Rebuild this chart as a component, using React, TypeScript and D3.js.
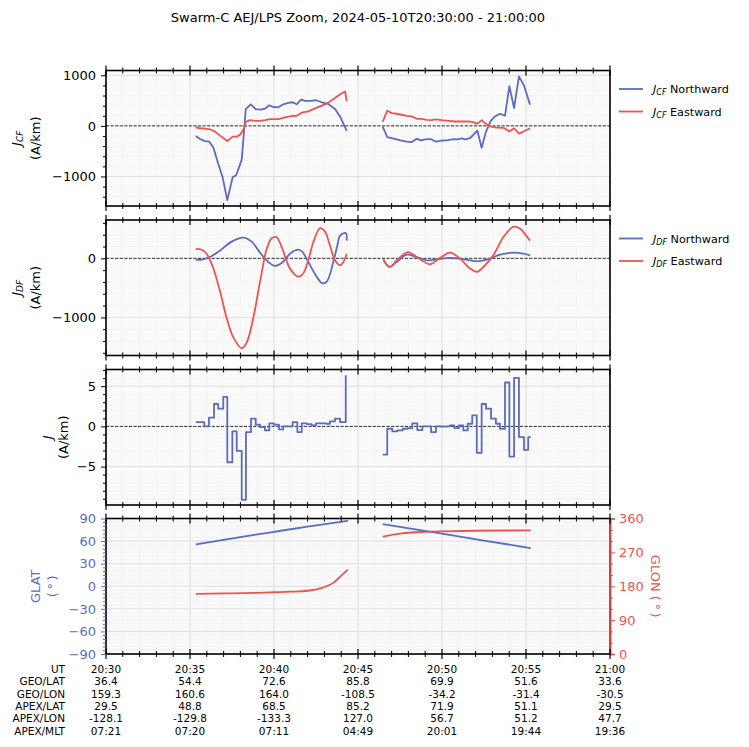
import React, { useEffect, useRef } from 'react';
import * as d3 from 'd3';

type Pt = [number, number];

// time = minutes after 20:30:00 UT
const jcfNorth: Pt[][] = [
  [[5.34, -200], [5.6, -260], [5.89, -300], [6.15, -313], [6.39, -427], [6.68, -747], [6.95, -1027], [7.22, -1467],
   [7.54, -1013], [7.74, -980], [8.08, -667], [8.32, 333], [8.61, 427], [8.91, 333], [9.21, 320], [9.46, 340],
   [9.72, 407], [9.96, 373], [10.26, 367], [10.55, 427], [10.85, 453], [11.11, 467], [11.35, 427], [11.61, 520],
   [11.85, 493], [12.14, 493], [12.5, 507], [12.84, 467], [13.23, 433], [13.63, 333], [13.93, 187], [14.33, -100]],
  [[16.47, -13], [16.74, -220], [17.01, -240], [17.3, -267], [17.6, -293], [17.9, -313], [18.2, -320], [18.49, -253],
   [18.73, -287], [18.99, -267], [19.33, -260], [19.64, -313], [19.98, -293], [20.38, -280], [20.67, -260], [20.91, -267],
   [21.17, -247], [21.37, -267], [21.67, -240], [21.86, -180], [22.1, -93], [22.36, -433], [22.62, -113], [22.9, 100],
   [23.15, 187], [23.45, 240], [23.75, 200], [24.01, 787], [24.29, 353], [24.58, 980], [24.88, 800], [25.24, 420]],
];
const jcfEast: Pt[][] = [
  [[5.34, -27], [5.6, -47], [5.89, -53], [6.19, -67], [6.49, -113], [6.79, -193], [7.22, -300], [7.54, -213],
   [7.78, -213], [7.98, -173], [8.17, -80], [8.32, 80], [8.57, 113], [8.87, 100], [9.17, 100], [9.46, 113],
   [9.76, 133], [10.26, 133], [10.65, 167], [11.05, 193], [11.35, 200], [11.65, 260], [12.04, 287], [12.44, 347],
   [12.84, 400], [13.23, 460], [13.63, 553], [13.93, 627], [14.23, 680], [14.33, 487]],
  [[16.47, 80], [16.74, 300], [17.01, 253], [17.3, 240], [17.6, 220], [17.9, 200], [18.2, 187], [18.49, 140],
   [18.79, 140], [19.09, 120], [19.39, 113], [19.64, 127], [19.98, 113], [20.38, 100], [20.77, 87], [21.17, 87],
   [21.57, 87], [21.86, 73], [22.1, 40], [22.36, 113], [22.62, 40], [22.9, -13], [23.26, -33], [23.69, -40],
   [24.01, -113], [24.29, -47], [24.58, -153], [24.88, -107], [25.24, -47]],
];
const jdfNorth: Pt[][] = [
  [[5.34, -22], [5.7, -22], [6.19, 22], [6.79, 133], [7.48, 283], [8.17, 350], [8.67, 283], [9.17, 95],
   [9.66, -61], [10.06, -128], [10.46, -78], [10.95, 78], [11.35, 145], [11.65, 122], [12.04, -61], [12.54, -311],
   [12.88, -422], [13.14, -395], [13.53, -61], [13.77, 217], [13.93, 383], [14.27, 428], [14.33, 300]],
  [[16.51, -22], [16.86, -145], [17.3, -61], [17.9, 61], [18.49, 22], [19.09, -33], [19.68, -17], [20.28, 5],
   [21.07, -5], [22.07, -50], [22.66, -22], [23.45, 61], [24.24, 95], [24.84, 78], [25.24, 50]],
];
const jdfEast: Pt[][] = [
  [[5.34, 161], [5.7, 145], [5.99, 78], [6.39, -172], [6.79, -561], [7.18, -1005], [7.58, -1339], [8.08, -1522],
   [8.38, -1422], [8.77, -1005], [9.17, -395], [9.57, 161], [9.86, 339], [10.16, 356], [10.46, 189], [10.95, -172],
   [11.45, -311], [11.74, -256], [12.04, -33], [12.34, 272], [12.74, 511], [13.04, 450], [13.33, 217], [13.63, -33],
   [13.93, -117], [14.13, -61], [14.33, 78]],
  [[16.51, -22], [16.9, -145], [17.4, -5], [17.99, 105], [18.49, 22], [19.29, -100], [19.88, 5], [20.48, 95],
   [21.07, -5], [21.67, -172], [22.1, -228], [22.56, -117], [23.05, 50], [23.65, 356], [24.24, 533], [24.64, 505],
   [24.94, 411], [25.24, 300]],
];
const jTotal: Pt[][] = [
  [[5.34, 0.54], [5.85, 0], [6.13, 1.08], [6.43, 2.79], [6.68, 2.21], [6.98, 3.67], [7.22, -4.46], [7.52, -0.63],
   [7.78, -3.04], [8.08, -9.13], [8.33, -0.71], [8.63, 0.96], [8.91, 0.21], [9.17, -0.08], [9.46, -0.5], [9.72, 0.38],
   [10.0, 0.21], [10.3, -0.38], [10.55, 0], [11.11, 0.54], [11.39, -0.71], [11.65, 0.38], [11.95, 0.29], [12.24, 0.13],
   [12.5, 0.38], [13.1, 0.33], [13.33, 0.63], [13.63, 0.96], [13.93, 0.54], [14.27, 6.38]],
  [[16.47, -3.5], [16.74, -0.29], [17.04, -0.63], [17.34, -0.5], [17.66, -0.29], [17.96, -0.21], [18.23, 0.38],
   [18.53, -0.46], [18.83, 0], [19.35, -0.71], [19.64, 0], [19.94, -0.04], [20.24, 0], [20.48, 0.13], [20.73, -0.21],
   [21.01, 0.13], [21.27, -0.5], [21.53, 0.33], [21.8, 1.38], [22.07, -3.29], [22.36, 2.79], [22.62, 2.21],
   [22.92, 0.96], [23.21, 0.33], [23.45, -0.29], [23.75, 5.46], [24.01, -3.75], [24.29, 6.04], [24.58, -1.33],
   [24.88, -2.92], [25.13, -1.33], [25.28, -1.33]],
];
const glat: Pt[][] = [
  [[5.35, 55.6], [8, 65.3], [10, 72.3], [12, 79.2], [14.4, 87]],
  [[16.47, 82.5], [20, 69.9], [25, 51.6], [25.28, 50.6]],
];
const glon: Pt[][] = [
  [[5.35, 160], [7, 161], [9, 162.6], [10, 164], [11, 165.5], [12, 168], [12.9, 176.5], [13.53, 189], [13.93, 205], [14.39, 224]],
  [[16.47, 312], [17.5, 320], [19, 324.5], [20, 325.8], [22, 327.5], [25.28, 328.5]],
];

const rowLabels = ['UT', 'GEO/LAT', 'GEO/LON', 'APEX/LAT', 'APEX/LON', 'APEX/MLT'];
const utLabels = ['20:30', '20:35', '20:40', '20:45', '20:50', '20:55', '21:00'];
const geoLat = ['36.4', '54.4', '72.6', '85.8', '69.9', '51.6', '33.6'];
const geoLon = ['159.3', '160.6', '164.0', '-108.5', '-34.2', '-31.4', '-30.5'];
const apexLat = ['29.5', '48.8', '68.5', '85.2', '71.9', '51.1', '29.5'];
const apexLon = ['-128.1', '-129.8', '-133.3', '127.0', '56.7', '51.2', '47.7'];
const apexMlt = ['07:21', '07:20', '07:11', '04:49', '20:01', '19:44', '19:36'];

const BLUE = '#5c6bc0';
const RED = '#ef5350';
const X0 = 106, X1 = 610;
const FONT = 'DejaVu Sans, sans-serif';

export default function App() {
  const ref = useRef<SVGSVGElement>(null);

  useEffect(() => {
    const svg = d3.select(ref.current);
    svg.selectAll('*').remove();

    const x = d3.scaleLinear().domain([0, 30]).range([X0, X1]);
    const majorT = d3.range(0, 31, 5);
    const minorT = d3.range(0, 31, 1).filter(d => d % 5 !== 0);

    const panels = [
      { top: 70.5, bottom: 206, domain: [-1584, 1095], ticks: [-1000, 0, 1000], minor: 200, sub: 'CF',
        lab: [20.5, 39.5], series: [[jcfNorth, BLUE], [jcfEast, RED]], curve: d3.curveLinear },
      { top: 220, bottom: 355.5, domain: [-1645, 649], ticks: [-1000, 0], minor: 200, sub: 'DF',
        lab: [20.5, 39.5], series: [[jdfNorth, BLUE], [jdfEast, RED]], curve: d3.curveCatmullRom },
      { top: 369.5, bottom: 505, domain: [-9.78, 7.08], ticks: [-5, 0, 5], minor: 1, sub: '',
        lab: [52, 67.5], series: [[jTotal, BLUE]], curve: d3.curveStepAfter },
      { top: 518.5, bottom: 654, domain: [-90, 90], ticks: d3.range(-90, 91, 30), minor: 5, sub: null,
        lab: [40, 56.5], series: [[glat, BLUE]], curve: d3.curveMonotoneX },
    ] as any[];

    panels.forEach((p, i) => {
      const y = d3.scaleLinear().domain(p.domain).range([p.bottom, p.top]);
      const g = svg.append('g');

      g.append('rect').attr('x', X0).attr('y', p.top).attr('width', X1 - X0).attr('height', p.bottom - p.top)
        .attr('fill', '#fafafa');

      // minor grid
      const yMinor = d3.range(Math.ceil(p.domain[0] / p.minor) * p.minor, p.domain[1], p.minor)
        .filter((v: number) => !p.ticks.includes(v));
      g.selectAll('.vminor').data(minorT).enter().append('line')
        .attr('x1', d => x(d)).attr('x2', d => x(d)).attr('y1', p.top).attr('y2', p.bottom)
        .attr('stroke', '#efefef').attr('stroke-width', 0.6);
      g.selectAll('.hminor').data(yMinor).enter().append('line')
        .attr('x1', X0).attr('x2', X1).attr('y1', (d: number) => y(d)).attr('y2', (d: number) => y(d))
        .attr('stroke', '#efefef').attr('stroke-width', 0.6);
      // major grid
      g.selectAll('.vmajor').data(majorT).enter().append('line')
        .attr('x1', d => x(d)).attr('x2', d => x(d)).attr('y1', p.top).attr('y2', p.bottom)
        .attr('stroke', '#d6d6d6').attr('stroke-width', 0.8);
      g.selectAll('.hmajor').data(p.ticks).enter().append('line')
        .attr('x1', X0).attr('x2', X1).attr('y1', (d: number) => y(d)).attr('y2', (d: number) => y(d))
        .attr('stroke', '#d6d6d6').attr('stroke-width', 0.8);

      if (i < 3) {
        g.append('line').attr('x1', X0).attr('x2', X1).attr('y1', y(0)).attr('y2', y(0))
          .attr('stroke', '#000').attr('stroke-width', 0.8).attr('stroke-dasharray', '3,1.6');
      }

      const line = d3.line<Pt>().x(d => x(d[0])).y(d => y(d[1])).curve(p.curve);
      p.series.forEach(([segs, color]: [Pt[][], string]) => {
        segs.forEach(seg => {
          g.append('path').attr('d', line(seg)).attr('fill', 'none').attr('stroke', color)
            .attr('stroke-width', 1.8).attr('stroke-linejoin', 'round');
        });
      });

      if (i === 3) {
        const yr = d3.scaleLinear().domain([0, 360]).range([p.bottom, p.top]);
        const lineR = d3.line<Pt>().x(d => x(d[0])).y(d => yr(d[1])).curve(d3.curveMonotoneX);
        glon.forEach(seg => {
          g.append('path').attr('d', lineR(seg)).attr('fill', 'none').attr('stroke', RED).attr('stroke-width', 1.8);
        });
        const rAxis = g.append('g').attr('transform', `translate(${X1},0)`)
          .call(d3.axisRight(yr).tickValues([0, 90, 180, 270, 360]).tickSize(5).tickPadding(4).tickFormat(d3.format('d')));
        const rMinor = g.append('g').attr('transform', `translate(${X1},0)`)
          .call(d3.axisRight(yr).tickValues(d3.range(0, 361, 30).filter(v => v % 90 !== 0)).tickSize(3).tickFormat(() => ''));
        [rAxis, rMinor].forEach(a => {
          a.select('.domain').attr('stroke', RED).attr('stroke-width', 1.6);
          a.selectAll('line').attr('stroke', RED);
          a.selectAll('text').attr('fill', RED).attr('font-size', 13).attr('font-family', FONT);
        });
        g.append('text').attr('transform', `translate(651,${(p.top + p.bottom) / 2}) rotate(90)`)
          .attr('text-anchor', 'middle').attr('fill', RED).attr('font-size', 13).attr('font-family', FONT)
          .text('GLON (\u2009°\u2009)');
      }

      // frame
      g.append('rect').attr('x', X0).attr('y', p.top).attr('width', X1 - X0).attr('height', p.bottom - p.top)
        .attr('fill', 'none').attr('stroke', '#000').attr('stroke-width', 1.6);
      if (i === 3) {
        g.append('line').attr('x1', X1).attr('x2', X1).attr('y1', p.top).attr('y2', p.bottom)
          .attr('stroke', RED).attr('stroke-width', 1.6);
      }

      // in-out time ticks, top and bottom
      [p.top, p.bottom].forEach(yy => {
        g.selectAll(null).data(majorT).enter().append('line')
          .attr('x1', d => x(d)).attr('x2', d => x(d)).attr('y1', yy - 5).attr('y2', yy + 5)
          .attr('stroke', '#000').attr('stroke-width', 1.2);
        g.selectAll(null).data(minorT).enter().append('line')
          .attr('x1', d => x(d)).attr('x2', d => x(d)).attr('y1', yy - 3).attr('y2', yy + 3)
          .attr('stroke', '#000').attr('stroke-width', 1);
      });

      // left axis
      const lc = i === 3 ? BLUE : '#000';
      const lAxis = g.append('g').attr('transform', `translate(${X0},0)`)
        .call(d3.axisLeft(y).tickValues(p.ticks).tickSize(5).tickPadding(5).tickFormat(d3.format('d')));
      const lMinor = g.append('g').attr('transform', `translate(${X0},0)`)
        .call(d3.axisLeft(y).tickValues(yMinor).tickSize(3).tickFormat(() => ''));
      [lAxis, lMinor].forEach(a => {
        a.select('.domain').remove();
        a.selectAll('line').attr('stroke', lc);
        a.selectAll('text').attr('fill', lc).attr('font-size', 13).attr('font-family', FONT);
      });

      // y label
      const cy = (p.top + p.bottom) / 2;
      const lab = g.append('g').attr('transform', `translate(0,${cy}) rotate(-90)`)
        .attr('font-family', FONT).attr('font-size', 13).attr('fill', lc).attr('text-anchor', 'middle');
      const t1 = lab.append('text').attr('x', 0).attr('y', p.lab[0]);
      if (p.sub === null) {
        t1.text('GLAT');
        lab.append('text').attr('x', 0).attr('y', p.lab[1]).text('(\u2009°\u2009)');
      } else {
        t1.append('tspan').attr('font-style', 'italic').text('J');
        if (p.sub) t1.append('tspan').attr('font-style', 'italic').attr('font-size', 9).attr('dy', 2.5).text(p.sub);
        lab.append('text').attr('x', 0).attr('y', p.lab[1]).text('(A/km)');
      }

      // legend
      if (i < 2) {
        const names = ['Northward', 'Eastward'];
        [BLUE, RED].forEach((c, k) => {
          const ly = (i === 0 ? 89 : 238.5) + k * 22.5;
          g.append('line').attr('x1', 619).attr('x2', 643).attr('y1', ly).attr('y2', ly)
            .attr('stroke', c).attr('stroke-width', 1.8);
          const tx = g.append('text').attr('x', 653).attr('y', ly + 4).attr('font-family', FONT).attr('font-size', 11.2);
          tx.append('tspan').attr('font-style', 'italic').text('J');
          tx.append('tspan').attr('font-style', 'italic').attr('font-size', 8).attr('dy', 2).text(p.sub);
          tx.append('tspan').attr('dy', -2).attr('dx', 3.5).text(names[k]);
        });
      }
    });

    // position table under the bottom panel
    const rows = [utLabels, geoLat, geoLon, apexLat, apexLon, apexMlt];
    const tbl = svg.append('g').attr('font-family', FONT).attr('font-size', 10.5).attr('fill', '#000');
    rows.forEach((vals, r) => {
      const ty = 673 + r * 12.3;
      tbl.append('text').attr('x', 65).attr('y', ty).attr('text-anchor', 'end').text(rowLabels[r]);
      tbl.selectAll(null).data(vals).enter().append('text')
        .attr('x', (_d, k) => x(majorT[k])).attr('y', ty).attr('text-anchor', 'middle').text(d => d);
    });

    svg.append('text').attr('x', 358).attr('y', 21.5).attr('text-anchor', 'middle')
      .attr('font-family', FONT).attr('font-size', 13)
      .text('Swarm-C AEJ/LPS Zoom, 2024-05-10T20:30:00 - 21:00:00');
  }, []);

  return (
    <svg ref={ref} width={749} height={747}
      style={{ position: 'absolute', left: 0, top: 0, background: '#fff' }} />
  );
}
